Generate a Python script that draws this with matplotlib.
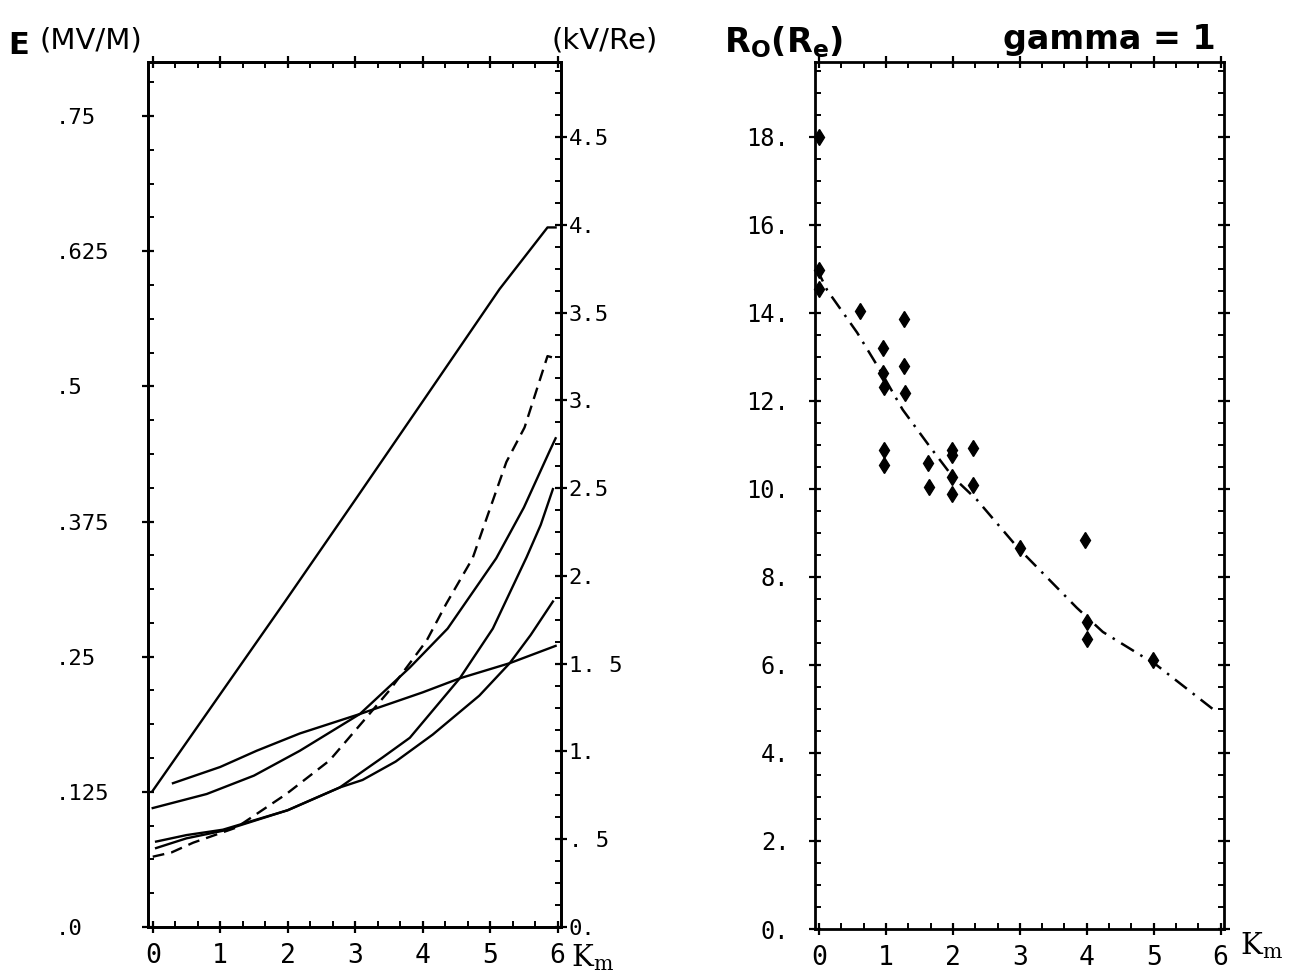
import matplotlib
matplotlib.use("Agg")
import matplotlib.pyplot as plt
from matplotlib.ticker import MultipleLocator

# ---------------- Left panel: E versus Km ----------------
km_top = [0.0, 1.03, 1.96, 3.0, 4.0, 5.14, 5.85, 5.97]
E_top = [0.126, 0.218, 0.301, 0.395, 0.486, 0.590, 0.647, 0.647]

km_flat = [0.30, 1.0, 1.54, 2.18, 3.07, 4.0, 4.55, 5.29, 5.97]
E_flat = [0.133, 0.148, 0.163, 0.179, 0.197, 0.217, 0.230, 0.244, 0.260]

km_A = [0.0, 0.8, 1.5, 2.18, 3.07, 3.81, 4.37, 5.09, 5.5, 5.88, 5.97]
E_A = [0.110, 0.123, 0.140, 0.163, 0.197, 0.240, 0.276, 0.341, 0.388, 0.440, 0.452]

km_B = [0.05, 0.5, 1.04, 2.0, 2.77, 3.41, 3.81, 4.55, 5.04, 5.54, 5.75, 5.93]
E_B = [0.079, 0.085, 0.090, 0.108, 0.129, 0.157, 0.175, 0.230, 0.276, 0.342, 0.372, 0.405]

km_C = [0.05, 0.5, 1.04, 2.0, 2.77, 3.11, 3.6, 4.15, 4.84, 5.29, 5.6, 5.93]
E_C = [0.073, 0.082, 0.089, 0.108, 0.129, 0.136, 0.153, 0.178, 0.214, 0.244, 0.270, 0.301]

km_dash = [0.0, 0.28, 0.6, 1.24, 1.98, 2.62, 3.17, 3.51, 3.81, 4.06, 4.35, 4.74, 5.24, 5.51, 5.85, 5.97]
E_dash = [0.065, 0.069, 0.078, 0.092, 0.123, 0.154, 0.194, 0.219, 0.244, 0.265, 0.299, 0.341, 0.430, 0.462, 0.528, 0.526]

left_ticks = [0.0, 0.125, 0.25, 0.375, 0.5, 0.625, 0.75]
left_labels = [".0", ".125", ".25", ".375", ".5", ".625", ".75"]
kv_ticks = [0, 0.5, 1, 1.5, 2, 2.5, 3, 3.5, 4, 4.5]
kv_labels = ["0.", ". 5", "1.", "1. 5", "2.", "2.5", "3.", "3.5", "4.", "4.5"]
kv_per_mvm = 6.16

# ---------------- Right panel: R0 versus Km ----------------
pts_km = [0.0, 0.0, 0.0, 0.61, 1.27, 0.96, 1.27, 0.96, 0.97, 1.28, 0.97, 0.97,
          1.63, 1.64, 1.99, 1.99, 2.3, 1.99, 1.99, 2.3, 3.0, 3.97, 4.01, 4.0, 4.99]
pts_R0 = [18.0, 14.98, 14.55, 14.05, 13.86, 13.2, 12.8, 12.64, 12.32, 12.18, 10.89, 10.55,
          10.59, 10.05, 10.89, 10.77, 10.93, 10.27, 9.89, 10.09, 8.66, 8.84, 6.98, 6.59, 6.11]

fit_km = [-0.04, 0.12, 0.57, 0.91, 1.25, 1.66, 2.0, 2.36, 2.96, 3.85, 4.24, 5.04, 5.94]
fit_R0 = [15.02, 14.52, 13.55, 12.7, 11.8, 10.95, 10.27, 9.75, 8.68, 7.3, 6.75, 6.0, 4.93]

r_ticks = [0, 2, 4, 6, 8, 10, 12, 14, 16, 18]
r_labels = ["0.", "2.", "4.", "6.", "8.", "10.", "12.", "14.", "16.", "18."]
x_ticks = [0, 1, 2, 3, 4, 5, 6]

# ---------------- Figure ----------------
W, H = 1308, 980
fig = plt.figure(figsize=(W / 100, H / 100), dpi=100)
MONO = "DejaVu Sans Mono"


def rect(l, r, t, b):
    return [l / W, 1 - b / H, (r - l) / W, (b - t) / H]


def style_axes(ax):
    for s in ax.spines.values():
        s.set_linewidth(2.0)
    ax.tick_params(which="major", direction="inout", length=9, width=1.6)
    ax.tick_params(which="minor", direction="in", length=4.5, width=1.4)


def set_font(labels, size):
    for lbl in labels:
        lbl.set_fontfamily(MONO)
        lbl.set_fontsize(size)


# Left panel
ax1 = fig.add_axes(rect(148, 561, 62, 927))
ax1.set_xlim(-0.07, 6.05)
ax1.set_ylim(0, 0.8)
style_axes(ax1)
ax1.tick_params(which="both", top=True, bottom=True, left=True, right=False)
ax1.set_xticks(x_ticks)
ax1.set_xticklabels([str(v) for v in x_ticks])
set_font(ax1.get_xticklabels(), 19)
ax1.xaxis.set_minor_locator(MultipleLocator(1 / 3))
ax1.tick_params(axis="x", which="major", pad=7)
ax1.set_yticks(left_ticks)
ax1.set_yticklabels(left_labels)
set_font(ax1.get_yticklabels(), 16)
ax1.yaxis.set_minor_locator(MultipleLocator(0.03125))
for lbl in ax1.get_yticklabels():
    lbl.set_horizontalalignment("left")
ax1.tick_params(axis="y", which="major", pad=62)

lw = 1.7
ax1.plot(km_top, E_top, color="black", lw=lw)
ax1.plot(km_flat, E_flat, color="black", lw=lw)
ax1.plot(km_A, E_A, color="black", lw=lw)
ax1.plot(km_B, E_B, color="black", lw=lw)
ax1.plot(km_C, E_C, color="black", lw=lw)
ax1.plot(km_dash, E_dash, color="black", lw=lw, dashes=(5, 3))

ax1r = ax1.twinx()
ax1r.set_ylim(0, 0.8 * kv_per_mvm)
style_axes(ax1r)
ax1r.tick_params(which="both", left=False, right=True)
ax1r.yaxis.set_minor_locator(MultipleLocator(0.125))
ax1r.set_yticks(kv_ticks)
ax1r.set_yticklabels(kv_labels)
set_font(ax1r.get_yticklabels(), 16)
ax1r.tick_params(axis="y", which="major", pad=1)

# Right panel
ax2 = fig.add_axes(rect(815, 1224, 62, 929))
ax2.set_xlim(-0.06, 6.05)
ax2.set_ylim(0, 19.7)
style_axes(ax2)
ax2.tick_params(which="both", top=True, bottom=True, left=True, right=True,
                labelright=False, labeltop=False)
ax2.set_xticks(x_ticks)
ax2.set_xticklabels([str(v) for v in x_ticks])
set_font(ax2.get_xticklabels(), 19)
ax2.xaxis.set_minor_locator(MultipleLocator(1 / 3))
ax2.tick_params(axis="x", which="major", pad=7)
ax2.set_yticks(r_ticks)
ax2.set_yticklabels(r_labels)
set_font(ax2.get_yticklabels(), 17)
ax2.yaxis.set_minor_locator(MultipleLocator(0.5))
ax2.tick_params(axis="y", which="major", pad=14)

ax2.plot(fit_km, fit_R0, color="black", lw=1.8, dashes=(6, 3, 1, 3))
ax2.plot(pts_km, pts_R0, linestyle="none", marker="d", markersize=8,
         color="black", clip_on=False)

# ---------------- Titles / labels ----------------
def ftext(x, y, s, **kw):
    fig.text(x / W, 1 - y / H, s, va="center", ha="left", **kw)


ftext(8, 46, "E", fontsize=22, fontweight="bold", family="DejaVu Sans")
ftext(40, 40, "(MV/M)", fontsize=21, family="DejaVu Sans")
ftext(552, 40, "(kV/Re)", fontsize=21, family="DejaVu Sans")
ftext(724, 42, r"R$_\mathregular{O}$(R$_\mathregular{e}$)", fontsize=24,
      fontweight="bold", family="DejaVu Sans")
ftext(1003, 40, "gamma = 1", fontsize=24, fontweight="bold", family="DejaVu Sans")
ftext(571, 958, r"K$_\mathregular{m}$", fontsize=21, family="DejaVu Serif")
ftext(1240, 946, r"K$_\mathregular{m}$", fontsize=21, family="DejaVu Serif")

fig.savefig("out.png", dpi=100, facecolor="white")
